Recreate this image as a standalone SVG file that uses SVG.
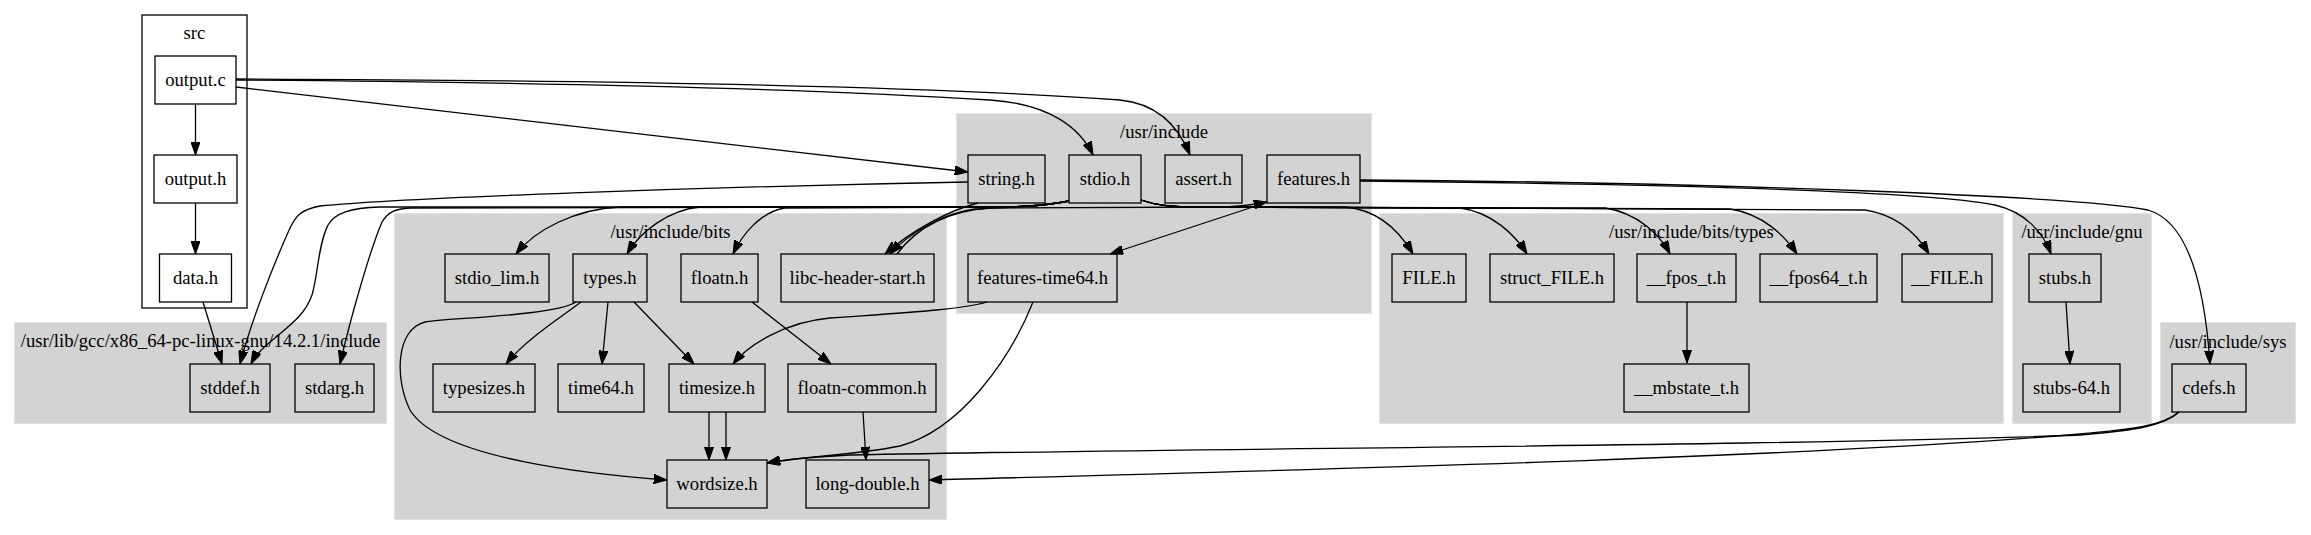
<svg xmlns="http://www.w3.org/2000/svg" width="2311" height="535" viewBox="0 0 2311 535">
<defs>
<style>
.cl{fill:#d3d3d3;stroke:#d3d3d3;stroke-width:1.3}
.cw{fill:#fff;stroke:#000;stroke-width:1.3}
.n rect{fill:none;stroke:#000;stroke-width:1.3}
text{font-family:"Liberation Serif","Times New Roman",serif;font-size:18.67px;text-anchor:middle;fill:#000}
.e path{fill:none;stroke:#000;stroke-width:1.3;marker-end:url(#a)}
</style>
<marker id="a" viewBox="0 0 13.3 9.3" refX="13.3" refY="4.65" markerWidth="13.3" markerHeight="9.3" markerUnits="userSpaceOnUse" orient="auto"><path d="M0,0 L13.3,4.65 L0,9.3 z" fill="#000" stroke="#000" stroke-width="1"/></marker>
</defs>
<rect width="2311" height="535" fill="#fff"/>
<g id="clusters">
<g id="cluster_src"><rect class="cw" x="142" y="15" width="105" height="293"/><text x="194.5" y="39">src</text></g>
<g id="cluster_gcc"><rect class="cl" x="15" y="323" width="371" height="100"/><text x="200.5" y="347">/usr/lib/gcc/x86_64-pc-linux-gnu/14.2.1/include</text></g>
<g id="cluster_usrinclude"><rect class="cl" x="957" y="114" width="414" height="199"/><text x="1164" y="138">/usr/include</text></g>
<g id="cluster_bits"><rect class="cl" x="395" y="214" width="551" height="305"/><text x="670.5" y="238">/usr/include/bits</text></g>
<g id="cluster_types"><rect class="cl" x="1380" y="214" width="623" height="209"/><text x="1691.5" y="238">/usr/include/bits/types</text></g>
<g id="cluster_gnu"><rect class="cl" x="2013" y="214" width="138" height="209"/><text x="2082" y="238">/usr/include/gnu</text></g>
<g id="cluster_sys"><rect class="cl" x="2161" y="323" width="134" height="100"/><text x="2228" y="348">/usr/include/sys</text></g>
</g>
<g id="connectors" class="e">
<path d="M195.5,104 L195.5,155"/>
<path d="M195.5,203 L195.5,254"/>
<path d="M203,302 L222,364"/>
<path d="M236,87 L968,172"/>
<path d="M236,80 C500,82 800,88 990,100 C1050,104 1080,128 1093,155"/>
<path d="M236,79 C550,80 900,84 1120,100 C1160,104 1180,130 1190,155"/>
<path d="M968,182 C700,187 400,198 320,206 C300,210 296,216 290,228 C272,268 250,325 240,364"/>
<path d="M1069,201 C1040,207 1010,207 980,207 L380,207 C350,208 335,213 328,225 C318,245 318,275 312,295 C305,315 290,325 275,338 C262,348 255,356 251,364"/>
<path d="M1069,201 C1040,207 1010,207 980,207 L410,208 C395,209 388,212 382,222 C370,250 350,320 340,364"/>
<path d="M1069,201 C1040,207 1010,207 980,207 L620,207 C575,209 535,230 516,254"/>
<path d="M1069,201 C1040,207 1010,207 980,207 L700,207 C668,210 640,232 627,254"/>
<path d="M1069,201 C1040,207 1010,207 980,207 L785,208 C760,212 742,235 733,254"/>
<path d="M1069,201 C1040,207 1010,207 975,209 C945,213 910,232 890,254"/>
<path d="M978,203 C950,210 912,230 885,254"/>
<path d="M897,254 C915,230 945,211 990,208 L1225,207 C1245,206 1257,204 1267,202"/>
<path d="M1262,204 L1110,254"/>
<path d="M1360,181 C1650,184 1920,190 1995,205 C2025,212 2043,232 2051,254"/>
<path d="M1360,180 C1700,182 2080,196 2148,210 C2190,222 2205,290 2210,364"/>
<path d="M1141,200 C1155,205 1170,207 1200,207 L1345,207 C1380,210 1400,232 1413,254"/>
<path d="M1141,200 C1155,205 1170,207 1200,207 L1460,208 C1492,212 1515,235 1527,254"/>
<path d="M1141,200 C1155,205 1170,207 1200,207 L1605,208 C1638,213 1660,235 1670,254"/>
<path d="M1141,200 C1155,205 1170,207 1200,207 L1730,209 C1763,214 1785,236 1797,254"/>
<path d="M1141,200 C1155,205 1170,207 1200,207 L1865,210 C1898,215 1918,236 1929,254"/>
<path d="M581,302 C560,318 525,340 506,364"/>
<path d="M608,302 L602,364"/>
<path d="M634,302 L694,364"/>
<path d="M576,302 C555,316 445,318 425,322 C395,330 395,380 410,410 C440,460 600,475 667,480"/>
<path d="M752,302 L831,364"/>
<path d="M709,412 L709,460"/>
<path d="M726,412 L726,460"/>
<path d="M863,412 L866,460"/>
<path d="M987,302 C960,310 900,313 830,318 C785,322 748,345 733,364"/>
<path d="M1033,302 C1010,360 960,430 900,446 C850,456 800,456 767,463"/>
<path d="M2179,412 C2165,425 2140,430 2080,435 C1800,446 1200,448 850,455 C810,457 785,460 767,463"/>
<path d="M2179,412 C2160,428 2120,430 2080,434 C1800,458 1300,470 929,480"/>
<path d="M1687,302 L1687,363"/>
<path d="M2066,302 L2070,364"/>
</g>
<g id="n_output_c" class="n"><rect x="155" y="56" width="81" height="48"/><text x="195.5" y="86">output.c</text></g>
<g id="n_output_h" class="n"><rect x="154" y="155" width="83" height="48"/><text x="195.5" y="185">output.h</text></g>
<g id="n_data_h" class="n"><rect x="159.5" y="254" width="72" height="48"/><text x="195.5" y="284">data.h</text></g>
<g id="n_stddef_h" class="n"><rect x="190" y="364" width="80" height="48"/><text x="230" y="394">stddef.h</text></g>
<g id="n_stdarg_h" class="n"><rect x="295" y="364" width="79" height="48"/><text x="334.5" y="394">stdarg.h</text></g>
<g id="n_string_h" class="n"><rect x="968" y="155" width="77" height="48"/><text x="1006.5" y="185">string.h</text></g>
<g id="n_stdio_h" class="n"><rect x="1069" y="155" width="72" height="48"/><text x="1105" y="185">stdio.h</text></g>
<g id="n_assert_h" class="n"><rect x="1165" y="155" width="77" height="48"/><text x="1203.5" y="185">assert.h</text></g>
<g id="n_features_h" class="n"><rect x="1267" y="155" width="93" height="48"/><text x="1313.5" y="185">features.h</text></g>
<g id="n_features_time64_h" class="n"><rect x="968" y="254" width="149" height="48"/><text x="1042.5" y="284">features-time64.h</text></g>
<g id="n_stdio_lim_h" class="n"><rect x="445" y="254" width="104" height="48"/><text x="497" y="284">stdio_lim.h</text></g>
<g id="n_types_h" class="n"><rect x="573" y="254" width="74" height="48"/><text x="610" y="284">types.h</text></g>
<g id="n_floatn_h" class="n"><rect x="681" y="254" width="77" height="48"/><text x="719.5" y="284">floatn.h</text></g>
<g id="n_libc_header_start_h" class="n"><rect x="781" y="254" width="153" height="48"/><text x="857.5" y="284">libc-header-start.h</text></g>
<g id="n_typesizes_h" class="n"><rect x="433" y="364" width="102" height="48"/><text x="484" y="394">typesizes.h</text></g>
<g id="n_time64_h" class="n"><rect x="558" y="364" width="86" height="48"/><text x="601" y="394">time64.h</text></g>
<g id="n_timesize_h" class="n"><rect x="669" y="364" width="96" height="48"/><text x="717" y="394">timesize.h</text></g>
<g id="n_floatn_common_h" class="n"><rect x="788" y="364" width="148" height="48"/><text x="862" y="394">floatn-common.h</text></g>
<g id="n_wordsize_h" class="n"><rect x="667" y="460" width="100" height="48"/><text x="717" y="490">wordsize.h</text></g>
<g id="n_long_double_h" class="n"><rect x="806" y="460" width="123" height="48"/><text x="867.5" y="490">long-double.h</text></g>
<g id="n_FILE_h" class="n"><rect x="1392" y="254" width="74" height="48"/><text x="1429" y="284">FILE.h</text></g>
<g id="n_struct_FILE_h" class="n"><rect x="1490" y="254" width="124" height="48"/><text x="1552" y="284">struct_FILE.h</text></g>
<g id="n___fpos_t_h" class="n"><rect x="1637" y="254" width="99" height="48"/><text x="1686.5" y="284">__fpos_t.h</text></g>
<g id="n___fpos64_t_h" class="n"><rect x="1760" y="254" width="117" height="48"/><text x="1818.5" y="284">__fpos64_t.h</text></g>
<g id="n___FILE_h" class="n"><rect x="1902" y="254" width="90" height="48"/><text x="1947" y="284">__FILE.h</text></g>
<g id="n___mbstate_t_h" class="n"><rect x="1624" y="364" width="125" height="48"/><text x="1686.5" y="394">__mbstate_t.h</text></g>
<g id="n_stubs_h" class="n"><rect x="2029" y="254" width="72" height="48"/><text x="2065" y="284">stubs.h</text></g>
<g id="n_stubs_64_h" class="n"><rect x="2023" y="364" width="97" height="48"/><text x="2071.5" y="394">stubs-64.h</text></g>
<g id="n_cdefs_h" class="n"><rect x="2172" y="364" width="74" height="48"/><text x="2209" y="394">cdefs.h</text></g>
</svg>
